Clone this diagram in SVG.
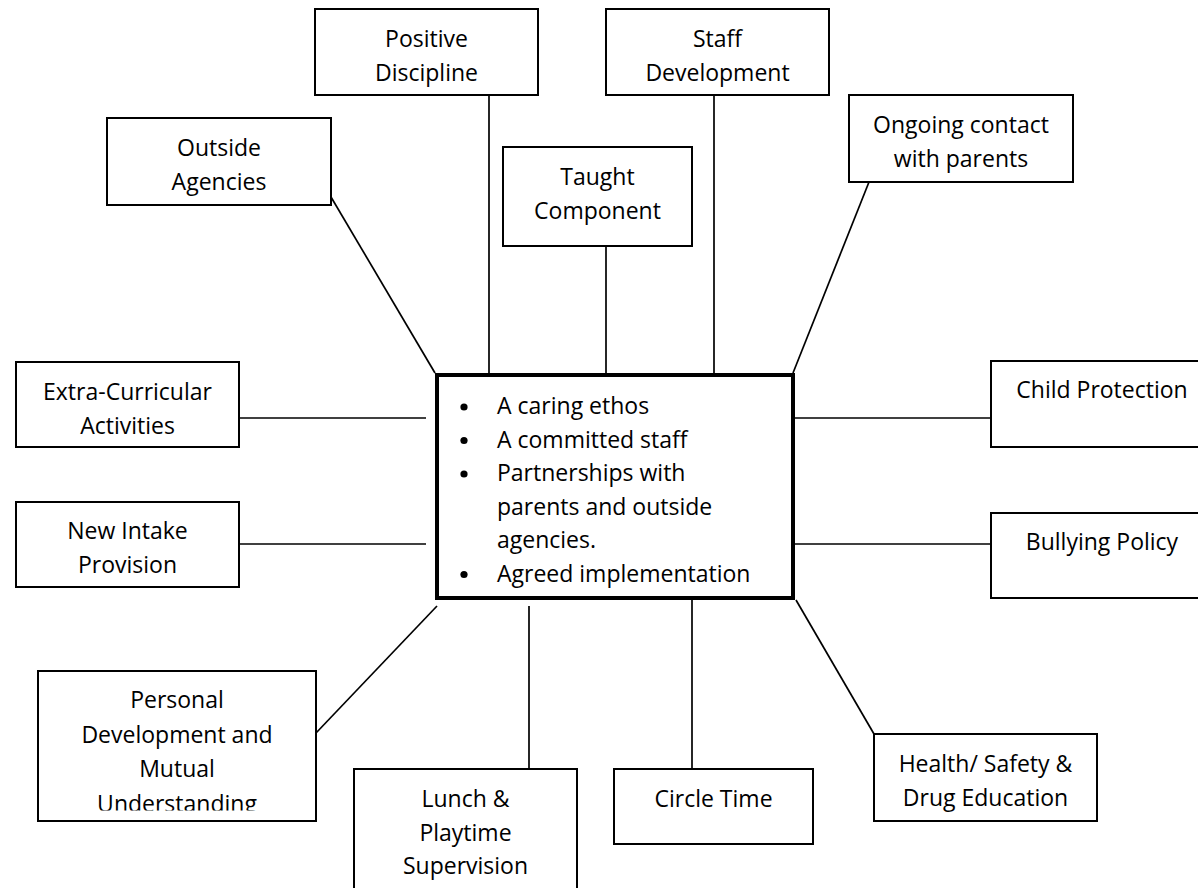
<svg xmlns="http://www.w3.org/2000/svg" width="1198" height="888" viewBox="0 0 1198 888">
<style>
.box{fill:#fff;stroke:#000;stroke-width:2}
.main{fill:#fff;stroke:#000;stroke-width:4}
.ln{stroke:#000;stroke-width:1.7;fill:none}
text{font-family:"Open Sans","Noto Sans",sans-serif;font-size:23px;fill:#000}
.c{text-anchor:middle}
</style>
<defs>
<clipPath id="clipPD"><rect x="38" y="671" width="278" height="139.5"/></clipPath>
</defs>
<rect width="1198" height="888" fill="#fff"/>
<g id="connectors">
<line class="ln" x1="331" y1="197" x2="435" y2="373"/>
<line class="ln" x1="489" y1="95" x2="489" y2="373"/>
<line class="ln" x1="606" y1="246" x2="606" y2="373"/>
<line class="ln" x1="714" y1="95" x2="714" y2="373"/>
<line class="ln" x1="869" y1="182" x2="793" y2="373"/>
<line class="ln" x1="239" y1="418" x2="426" y2="418"/>
<line class="ln" x1="239" y1="544" x2="426" y2="544"/>
<line class="ln" x1="795" y1="418" x2="991" y2="418"/>
<line class="ln" x1="795" y1="544" x2="991" y2="544"/>
<line class="ln" x1="316" y1="733" x2="437" y2="606"/>
<line class="ln" x1="529" y1="606" x2="529" y2="769"/>
<line class="ln" x1="692" y1="600" x2="692" y2="769"/>
<line class="ln" x1="796" y1="600" x2="874" y2="734"/>
</g>
<g id="center">
<rect class="main" x="437" y="375" width="356" height="223"/>
<circle cx="464" cy="407" r="3.6"/>
<circle cx="464" cy="440.5" r="3.6"/>
<circle cx="464" cy="474" r="3.6"/>
<circle cx="464" cy="574.5" r="3.6"/>
<text x="497" y="414">A caring ethos</text>
<text x="497" y="447.5">A committed staff</text>
<text x="497" y="481">Partnerships with</text>
<text x="497" y="514.5">parents and outside</text>
<text x="497" y="548">agencies.</text>
<text x="497" y="581.5">Agreed implementation</text>
</g>
<g id="positive-discipline">
<rect class="box" x="315" y="9" width="223" height="86"/>
<text class="c" x="426.5" y="47">Positive</text>
<text class="c" x="426.5" y="80.5">Discipline</text>
</g>
<g id="staff-development">
<rect class="box" x="606" y="9" width="223" height="86"/>
<text class="c" x="717.5" y="47">Staff</text>
<text class="c" x="717.5" y="80.5">Development</text>
</g>
<g id="outside-agencies">
<rect class="box" x="107" y="118" width="224" height="87"/>
<text class="c" x="219" y="156">Outside</text>
<text class="c" x="219" y="189.5">Agencies</text>
</g>
<g id="taught-component">
<rect class="box" x="503" y="147" width="189" height="99"/>
<text class="c" x="597.5" y="185">Taught</text>
<text class="c" x="597.5" y="218.5">Component</text>
</g>
<g id="ongoing-contact">
<rect class="box" x="849" y="95" width="224" height="87"/>
<text class="c" x="961" y="133">Ongoing contact</text>
<text class="c" x="961" y="166.5">with parents</text>
</g>
<g id="extra-curricular">
<rect class="box" x="16" y="362" width="223" height="85"/>
<text class="c" x="127.5" y="400">Extra-Curricular</text>
<text class="c" x="127.5" y="433.5">Activities</text>
</g>
<g id="new-intake">
<rect class="box" x="16" y="502" width="223" height="85"/>
<text class="c" x="127.5" y="539">New Intake</text>
<text class="c" x="127.5" y="572.5">Provision</text>
</g>
<g id="child-protection">
<rect class="box" x="991" y="361" width="222" height="86"/>
<text class="c" x="1102" y="398">Child Protection</text>
</g>
<g id="bullying-policy">
<rect class="box" x="991" y="513" width="222" height="85"/>
<text class="c" x="1102" y="550">Bullying Policy</text>
</g>
<g id="personal-development">
<rect class="box" x="38" y="671" width="278" height="150"/>
<g clip-path="url(#clipPD)">
<text class="c" x="177" y="708">Personal</text>
<text class="c" x="177" y="742.5">Development and</text>
<text class="c" x="177" y="777">Mutual</text>
<text class="c" x="177" y="811.5">Understanding</text>
</g>
</g>
<g id="lunch-playtime">
<rect class="box" x="354" y="769" width="223" height="130"/>
<text class="c" x="465.5" y="807">Lunch &amp;</text>
<text class="c" x="465.5" y="840.5">Playtime</text>
<text class="c" x="465.5" y="874">Supervision</text>
</g>
<g id="circle-time">
<rect class="box" x="614" y="769" width="199" height="75"/>
<text class="c" x="713.5" y="807">Circle Time</text>
</g>
<g id="health-safety">
<rect class="box" x="874" y="734" width="223" height="87"/>
<text class="c" x="985.5" y="772">Health/ Safety &amp;</text>
<text class="c" x="985.5" y="805.5">Drug Education</text>
</g>
</svg>
